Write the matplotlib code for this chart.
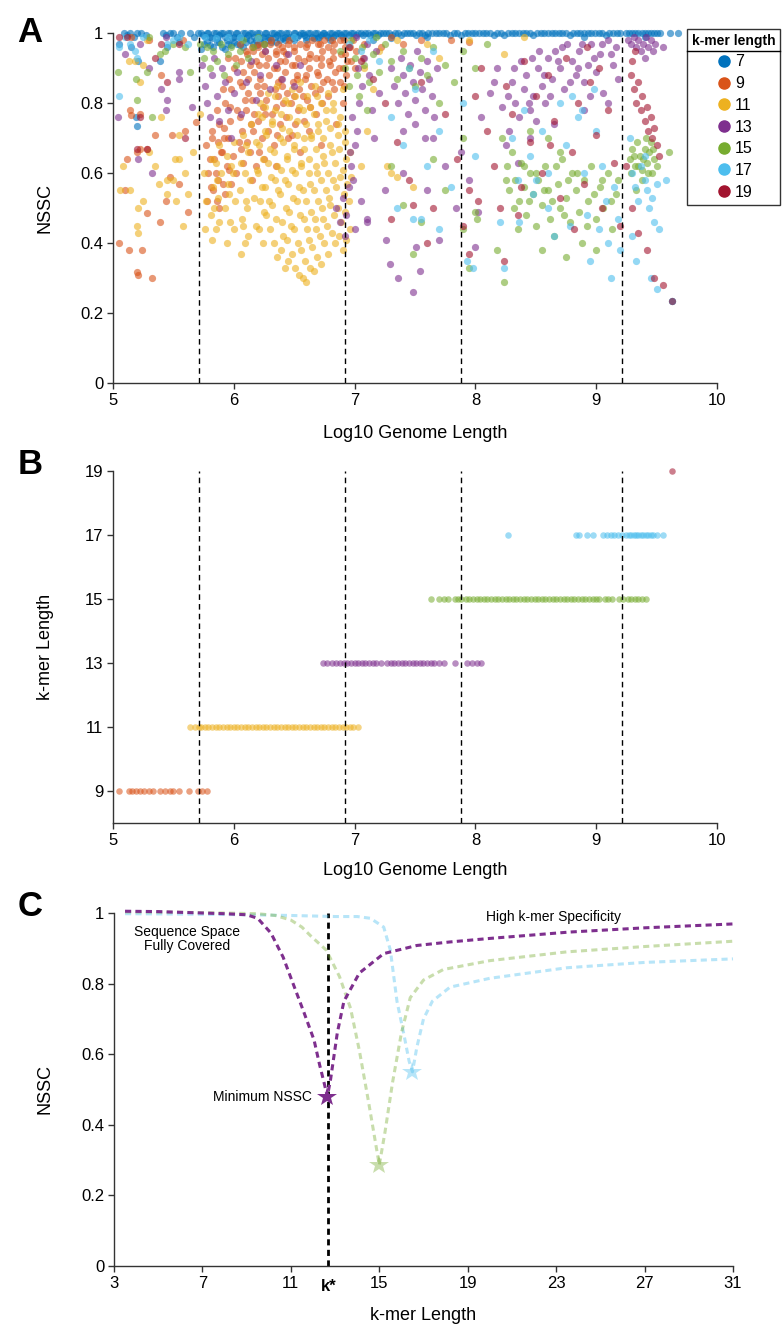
import numpy as np
import matplotlib.pyplot as plt
from matplotlib.lines import Line2D

plt.rcParams['font.family'] = ['Liberation Sans', 'DejaVu Sans']

kmers = [7, 9, 11, 13, 15, 17, 19]
colors = ['#0072BD', '#D95319', '#EDB120', '#7E2F8E', '#77AC30', '#4DBEEE', '#A2142F']

# ---- panel A: (log10 genome length, NSSC) ----
a7 = [(5.09,1),(5.12,0.995),(5.14,1),(5.17,0.99),(5.20,1),(5.23,1),(5.27,0.995),(5.41,1),(5.44,0.995),(5.47,1),
      (5.50,1),(5.53,0.99),(5.56,1),(5.64,1),(5.67,0.99),(5.70,1),(5.73,1),(5.76,0.99),(5.79,1),(5.82,0.985),
      (5.85,1),(5.88,0.995),(5.91,1),(5.94,0.98),(5.97,1),(6.00,0.99),(6.03,1),(6.06,0.985),(6.09,1),(6.12,0.995),
      (6.15,1),(6.18,0.98),(6.21,1),(6.24,0.99),(6.27,1),(6.30,0.985),(6.33,1),(6.36,0.995),(6.39,1),(6.42,0.99),
      (6.45,1),(6.48,0.985),(6.51,1),(6.54,0.995),(6.57,1),(6.60,0.99),(6.63,1),(6.66,0.985),(6.69,1),(6.72,0.995),
      (6.75,1),(6.78,0.99),(6.81,1),(6.84,0.995),(6.87,1),(6.90,0.99),(6.93,1),(6.97,1),(7.01,0.995),(7.05,1),
      (7.09,1),(7.13,0.995),(7.17,1),(7.21,1),(7.26,1),(7.31,0.995),(7.36,1),(7.41,1),(7.46,1),(7.51,0.995),
      (7.56,1),(7.61,1),(7.67,1),(7.73,1),(7.79,0.995),(7.85,1),(7.91,1),(7.97,1),(8.03,1),(8.09,1),
      (8.15,0.995),(8.21,1),(8.27,1),(8.33,1),(8.39,1),(8.45,1),(8.51,1),(8.57,1),(8.63,1),(8.69,1),
      (8.75,1),(8.81,1),(8.87,1),(8.93,1),(8.99,1),(9.05,1),(9.11,1),(9.17,1),(9.25,1),(9.30,1),
      (9.35,1),(9.40,1),(9.45,1),(9.50,1),(9.53,1),(9.61,1),(9.68,1),
      (5.745,0.995),(5.775,1),(5.805,0.99),(5.835,1),(5.865,0.985),(5.895,1),(5.925,0.99),(5.955,1),
      (5.985,0.985),(6.015,1),(6.045,0.99),(6.075,1),(6.105,0.985),(6.135,1),(6.165,0.99),(6.195,1),
      (6.225,0.985),(6.255,1),(6.285,0.99),(6.315,1),(6.345,0.99),(6.375,1),(6.405,0.985),(6.435,1),
      (6.465,0.99),(6.495,1),(6.525,0.99),(6.555,1),(6.585,0.995),(6.615,1),(6.645,0.99),(6.675,1),
      (6.705,0.99),(6.735,1),(6.765,0.995),(6.795,1),(6.825,0.99),(6.855,1),(6.885,0.995),(6.915,1),
      (6.95,0.995),(6.99,1),(7.03,1),(7.07,0.995),(7.11,1),(7.15,1),(7.19,0.995),(7.235,1),(7.285,1),
      (7.335,1),(7.385,0.995),(7.435,1),(7.485,1),(7.535,1),(7.585,0.995),(7.64,1),(7.70,1),(7.76,1),
      (7.82,1),(7.88,0.995),(7.94,1),(8.00,1),(8.06,1),(8.12,1),(8.18,1),(8.24,0.995),(8.30,1),(8.36,1),
      (8.42,1),(8.48,0.995),(8.54,1),(8.60,1),(8.66,1),(8.72,1),(8.78,0.995),(8.84,1),(8.90,1),(8.96,1),
      (9.02,1),(9.08,0.995),(9.14,1),(9.20,1),(9.27,1),(9.32,1),(9.38,1),(9.43,1),(9.48,1),
      (5.75,0.97),(5.80,0.965),(5.86,0.975),(5.90,0.96),(5.95,0.97),(6.00,0.975),(6.05,0.965),(6.10,0.975),
      (6.16,0.97),(6.22,0.975),(6.28,0.98),(6.35,0.975),(6.42,0.98),(6.50,0.98),(6.60,0.98),(6.70,0.985),
      (6.80,0.98),(5.73,0.955),(5.78,0.975),(5.83,0.96),(5.88,0.975),(5.93,0.955),(5.98,0.965),(6.03,0.97),
      (6.08,0.96),(6.13,0.98),(6.19,0.965),(6.25,0.97),(6.31,0.975),(6.38,0.98),
      (5.21,0.92),(5.39,0.92),(5.19,0.76),(5.20,0.735),(5.05,0.97),(5.15,0.96),(5.55,0.975),(5.45,0.96),
      (9.63,0.235),(7.15,0.98),(7.30,0.985),(7.60,0.99),(8.90,0.99),(9.40,0.99)]

a9 = [(5.05,0.40),(5.13,0.38),(5.20,0.317),(5.21,0.31),(5.24,0.38),(5.28,0.486),(5.32,0.30),(5.39,0.46),
      (5.44,0.52),(5.55,0.57),(5.62,0.49),(5.10,0.55),(5.22,0.77),(5.14,0.78),(5.15,0.766),(5.49,0.71),
      (5.69,0.746),(5.22,0.67),(5.28,0.67),(5.20,0.66),(5.15,0.99),(5.30,0.98),(5.60,0.72),(5.12,0.64),
      (5.40,0.88),(5.47,0.59),(5.58,0.98),(5.35,0.71),
      (5.78,0.52),(5.79,0.60),(5.77,0.68),(5.83,0.55),(5.84,0.64),(5.82,0.72),(5.88,0.50),(5.87,0.58),
      (5.89,0.66),(5.88,0.74),(5.93,0.54),(5.94,0.62),(5.92,0.70),(5.93,0.80),(5.98,0.57),(5.99,0.65),
      (5.97,0.75),(5.98,0.84),(6.00,0.90),(6.02,0.60),(6.04,0.69),(6.03,0.78),(6.05,0.86),(6.01,0.93),
      (6.08,0.63),(6.07,0.72),(6.09,0.81),(6.08,0.89),(6.10,0.95),(6.13,0.66),(6.14,0.74),(6.12,0.83),
      (6.13,0.91),(6.15,0.96),(6.18,0.62),(6.17,0.77),(6.19,0.85),(6.18,0.92),(6.20,0.97),(6.23,0.70),
      (6.24,0.79),(6.22,0.87),(6.23,0.94),(6.25,0.97),(6.28,0.72),(6.27,0.81),(6.29,0.88),(6.28,0.93),
      (6.30,0.97),(6.33,0.68),(6.32,0.77),(6.34,0.84),(6.33,0.90),(6.35,0.95),(6.31,0.98),(6.38,0.74),
      (6.37,0.82),(6.39,0.87),(6.38,0.92),(6.40,0.96),(6.43,0.76),(6.44,0.83),(6.42,0.89),(6.43,0.94),
      (6.45,0.97),(6.48,0.71),(6.47,0.80),(6.49,0.86),(6.48,0.91),(6.50,0.95),(6.46,0.98),(6.53,0.78),
      (6.54,0.84),(6.52,0.88),(6.53,0.93),(6.55,0.97),(6.58,0.75),(6.57,0.82),(6.59,0.87),(6.58,0.92),
      (6.60,0.96),(6.63,0.79),(6.64,0.85),(6.62,0.90),(6.63,0.94),(6.65,0.98),(6.68,0.77),(6.67,0.83),
      (6.69,0.89),(6.68,0.93),(6.70,0.97),(6.73,0.80),(6.74,0.86),(6.72,0.91),(6.73,0.95),(6.75,0.98),
      (6.78,0.82),(6.77,0.87),(6.79,0.92),(6.78,0.96),(6.83,0.84),(6.84,0.89),(6.82,0.93),(6.83,0.97),
      (6.88,0.86),(6.87,0.90),(6.89,0.94),(6.88,0.98),(6.93,0.88),(6.94,0.92),(6.92,0.96),(7.00,0.90),
      (7.01,0.95),(6.99,0.98),(7.07,0.93),(7.08,0.97),
      (5.81,0.56),(5.80,0.64),(5.82,0.70),(5.86,0.52),(5.85,0.60),(5.87,0.69),(5.86,0.78),(5.91,0.57),
      (5.90,0.66),(5.92,0.73),(5.91,0.84),(5.96,0.61),(5.95,0.70),(5.97,0.79),(5.96,0.87),(5.95,0.93),
      (6.06,0.67),(6.05,0.76),(6.07,0.85),(6.06,0.92),(6.05,0.97),(6.11,0.69),(6.10,0.78),(6.12,0.87),
      (6.11,0.94),(6.16,0.72),(6.15,0.81),(6.17,0.89),(6.16,0.95),(6.21,0.66),(6.20,0.75),(6.22,0.83),
      (6.21,0.91),(6.20,0.96),(6.26,0.77),(6.25,0.85),(6.27,0.91),(6.26,0.95),(6.36,0.71),(6.35,0.79),
      (6.37,0.86),(6.36,0.90),(6.35,0.94),(6.37,0.97),(6.41,0.80),(6.40,0.85),(6.42,0.92),(6.41,0.95),
      (6.51,0.74),(6.50,0.82),(6.52,0.87),(6.51,0.91),(6.50,0.96),(6.61,0.81),(6.60,0.88),(6.62,0.93),
      (6.61,0.97),(6.71,0.84),(6.70,0.88),(6.72,0.93),(6.71,0.97),(6.81,0.86),(6.80,0.91),(6.82,0.95),
      (6.81,0.98),(6.91,0.85),(6.90,0.90),(6.92,0.94),(6.91,0.98),(6.97,0.92),(6.96,0.96),
      (6.45,0.70),(6.55,0.66),(6.62,0.72),(6.72,0.68),(6.85,0.74),(6.90,0.80),(6.25,0.64),(6.15,0.58),
      (6.35,0.62),(7.22,0.96),(7.30,0.99),(7.40,0.97),(7.55,0.98),(7.80,0.98),(7.95,0.975)]

a11 = [(5.76,0.44),(5.77,0.52),(5.75,0.60),(5.82,0.41),(5.81,0.48),(5.83,0.56),(5.82,0.64),(5.88,0.46),
       (5.87,0.53),(5.89,0.60),(5.88,0.68),(5.94,0.40),(5.93,0.50),(5.95,0.57),(5.94,0.65),(6.00,0.44),
       (6.01,0.52),(5.99,0.60),(6.00,0.69),(6.06,0.37),(6.07,0.47),(6.05,0.55),(6.06,0.63),(6.08,0.71),
       (6.12,0.42),(6.11,0.50),(6.13,0.58),(6.12,0.66),(6.14,0.74),(6.18,0.45),(6.17,0.53),(6.19,0.61),
       (6.18,0.69),(6.20,0.77),(6.24,0.40),(6.25,0.49),(6.23,0.56),(6.24,0.64),(6.26,0.72),(6.22,0.80),
       (6.30,0.44),(6.29,0.52),(6.31,0.59),(6.30,0.67),(6.32,0.75),(6.28,0.83),(6.36,0.36),(6.35,0.47),
       (6.37,0.55),(6.36,0.62),(6.38,0.70),(6.34,0.78),(6.36,0.85),(6.42,0.33),(6.41,0.42),(6.43,0.50),
       (6.42,0.58),(6.44,0.65),(6.40,0.73),(6.42,0.81),(6.48,0.37),(6.47,0.45),(6.49,0.53),(6.48,0.61),
       (6.50,0.68),(6.46,0.76),(6.48,0.84),(6.54,0.31),(6.53,0.40),(6.55,0.48),(6.54,0.56),(6.56,0.63),
       (6.52,0.71),(6.54,0.79),(6.55,0.86),(6.60,0.29),(6.59,0.35),(6.61,0.44),(6.60,0.52),(6.62,0.60),
       (6.58,0.67),(6.60,0.74),(6.61,0.82),(6.66,0.32),(6.65,0.39),(6.67,0.47),(6.66,0.55),(6.68,0.62),
       (6.64,0.70),(6.66,0.77),(6.67,0.85),(6.72,0.34),(6.71,0.42),(6.73,0.50),(6.72,0.58),(6.74,0.65),
       (6.70,0.72),(6.72,0.80),(6.78,0.37),(6.77,0.45),(6.79,0.53),(6.78,0.60),(6.80,0.68),(6.76,0.75),
       (6.78,0.83),(6.84,0.40),(6.83,0.48),(6.85,0.56),(6.84,0.63),(6.86,0.71),(6.82,0.78),(6.90,0.38),
       (6.89,0.46),(6.91,0.54),(6.90,0.61),(6.92,0.69),(6.88,0.76),(6.90,0.84),(6.96,0.44),(6.95,0.52),
       (6.97,0.59),(6.96,0.66),
       (6.21,0.44),(6.22,0.52),(6.20,0.60),(6.21,0.68),(6.23,0.76),(6.27,0.48),(6.26,0.56),(6.28,0.63),
       (6.27,0.71),(6.26,0.79),(6.33,0.40),(6.32,0.51),(6.34,0.58),(6.33,0.66),(6.32,0.74),(6.34,0.82),
       (6.39,0.38),(6.40,0.46),(6.38,0.54),(6.39,0.61),(6.41,0.69),(6.39,0.77),(6.45,0.35),(6.44,0.41),
       (6.46,0.49),(6.45,0.57),(6.44,0.64),(6.46,0.72),(6.45,0.80),(6.51,0.33),(6.50,0.44),(6.52,0.52),
       (6.51,0.60),(6.50,0.67),(6.52,0.75),(6.51,0.82),(6.57,0.30),(6.56,0.38),(6.58,0.47),(6.57,0.55),
       (6.56,0.62),(6.58,0.70),(6.57,0.78),(6.63,0.33),(6.62,0.41),(6.64,0.49),(6.63,0.57),(6.62,0.64),
       (6.64,0.71),(6.63,0.79),(6.69,0.36),(6.68,0.44),(6.70,0.52),(6.69,0.60),(6.68,0.67),(6.70,0.74),
       (6.69,0.82),(6.75,0.40),(6.74,0.47),(6.76,0.55),(6.75,0.63),(6.74,0.70),(6.76,0.78),(6.81,0.43),
       (6.80,0.51),(6.82,0.58),(6.81,0.66),(6.80,0.73),(6.82,0.80),(6.87,0.42),(6.86,0.50),(6.88,0.59),
       (6.87,0.67),(6.86,0.74),(6.93,0.41),(6.92,0.49),(6.94,0.57),(6.93,0.64),(6.92,0.72),
       (5.85,0.44),(5.84,0.50),(5.86,0.58),(5.85,0.63),(5.97,0.46),(5.96,0.54),(5.98,0.62),(6.09,0.40),
       (6.08,0.45),(6.10,0.52),(6.09,0.60),(6.10,0.68),
       (5.06,0.55),(5.14,0.55),(5.21,0.50),(5.25,0.52),(5.21,0.43),(5.20,0.45),(5.45,0.54),(5.45,0.58),
       (5.13,0.92),(5.18,0.92),(5.22,0.86),(5.25,0.91),(5.55,0.71),(5.51,0.64),(5.55,0.64),(5.72,0.77),
       (5.30,0.66),(5.35,0.62),(5.40,0.76),(5.50,0.58),(5.52,0.52),(5.60,0.60),(5.62,0.54),(5.66,0.66),
       (5.28,0.98),(5.38,0.57),(5.08,0.62),(5.58,0.45),
       (7.05,0.62),(7.10,0.72),(7.15,0.84),(7.08,0.90),(7.20,0.95),(7.95,0.98),(8.24,0.94),(7.35,0.98),
       (7.60,0.97),(7.70,0.93),(8.40,0.99),(7.27,0.62),(7.30,0.60),(7.35,0.59),(7.48,0.56)]

a13 = [(5.74,0.91),(5.76,0.85),(5.78,0.80),(5.80,0.76),(5.82,0.88),(5.84,0.93),(5.86,0.82),(5.88,0.75),
       (5.90,0.90),(5.93,0.86),(5.95,0.78),(5.98,0.70),(6.00,0.83),(6.03,0.89),(6.06,0.77),(6.10,0.86),
       (6.14,0.92),(6.18,0.81),(6.22,0.88),(6.26,0.95),(6.30,0.84),(6.35,0.91),(6.40,0.87),(6.45,0.94),
       (6.50,0.85),(6.55,0.91),
       (5.04,0.76),(5.21,0.64),(5.40,0.84),(5.44,0.78),(5.55,0.89),(5.55,0.87),(5.45,0.81),(5.65,0.79),
       (5.32,0.60),(5.22,0.97),(5.44,0.99),(5.10,0.94),(5.30,0.90),
       (6.85,0.50),(6.88,0.46),(6.90,0.53),(6.93,0.48),(6.95,0.56),(6.97,0.62),(6.99,0.58),(7.00,0.68),
       (7.02,0.72),(6.98,0.76),(7.04,0.80),(7.06,0.85),(7.03,0.90),(7.08,0.93),(7.10,0.97),(7.01,0.99),
       (7.12,0.88),(7.14,0.78),(6.96,0.66),(7.05,0.52),(7.10,0.47),(7.00,0.44),(6.92,0.42),(7.16,0.70),
       (7.20,0.83),(7.18,0.95),
       (7.10,0.46),(7.26,0.41),(7.29,0.34),(7.36,0.30),(7.48,0.26),(7.51,0.39),(7.54,0.32),(7.70,0.41),
       (7.84,0.50),(8.00,0.39),(8.02,0.49),(7.25,0.55),(7.40,0.60),(7.60,0.55),(7.75,0.62),(7.95,0.58),
       (7.65,0.70),(7.88,0.66),
       (7.30,0.90),(7.33,0.85),(7.36,0.80),(7.38,0.93),(7.40,0.88),(7.42,0.83),(7.44,0.77),(7.46,0.91),
       (7.48,0.86),(7.50,0.81),(7.52,0.95),(7.54,0.89),(7.56,0.84),(7.58,0.78),(7.60,0.92),(7.62,0.87),
       (7.64,0.82),(7.66,0.76),(7.68,0.90),(7.40,0.72),(7.50,0.74),(7.58,0.70),
       (8.05,0.76),(8.12,0.83),(8.18,0.90),(8.22,0.79),(8.28,0.72),(8.30,0.86),(8.33,0.80),(8.36,0.76),
       (8.38,0.92),(8.40,0.84),(8.42,0.88),(8.45,0.78),(8.48,0.82),(8.50,0.75),(8.52,0.90),(8.55,0.85),
       (8.58,0.80),(8.60,0.93),(8.63,0.87),(8.66,0.95),(8.70,0.90),(8.73,0.84),(8.76,0.97),(8.80,0.92),
       (8.83,0.88),(8.86,0.95),(8.90,0.86),(8.93,0.91),(8.96,0.97),(9.00,0.89),(9.03,0.94),(9.06,0.83),
       (9.10,0.98),(9.14,0.91),(9.18,0.87),(8.25,0.68),(8.45,0.70),(8.65,0.74),(8.90,0.78),(9.10,0.80),
       (8.35,0.63),(8.15,0.86),(8.27,0.82),(8.32,0.90),(8.44,0.80),(8.47,0.93),(8.57,0.88),(8.62,0.82),
       (8.68,0.92),(8.72,0.96),(8.78,0.86),(8.85,0.90),(8.88,0.97),(8.98,0.93),(9.05,0.97),(9.12,0.94),
       (9.16,0.96),(8.53,0.95),(8.95,0.82),
       (9.26,0.98),(9.29,0.97),(9.31,0.99),(9.33,0.96),(9.35,0.98),(9.37,0.95),(9.39,0.97),(9.41,0.99),
       (9.43,0.96),(9.45,0.98),(9.47,0.95),(9.49,0.97),(9.55,0.96),(9.40,0.93)]

a15 = [(5.72,0.97),(5.75,0.93),(5.78,0.96),(5.80,0.90),(5.83,0.95),(5.86,0.92),(5.89,0.97),(5.92,0.88),
       (5.95,0.94),(5.98,0.96),(6.02,0.91),(6.05,0.95),(6.08,0.98),(6.12,0.93),(6.16,0.96),(6.20,0.99),
       (6.25,0.97),
       (5.28,0.89),(5.19,0.87),(5.20,0.81),(5.32,0.76),(5.43,0.95),(5.39,0.94),(5.64,0.89),(5.04,0.89),
       (5.30,0.99),(5.50,0.97),(5.60,0.96),
       (6.88,0.95),(6.92,0.90),(6.95,0.85),(6.97,0.98),(7.00,0.93),(7.02,0.88),(7.04,0.82),(7.06,0.96),
       (7.08,0.91),(7.10,0.78),(7.12,0.86),(7.15,0.94),(7.18,0.99),(7.20,0.89),
       (7.25,0.97),(7.30,0.92),(7.35,0.87),(7.40,0.95),(7.45,0.90),(7.50,0.85),(7.55,0.93),(7.60,0.88),
       (7.65,0.96),(7.70,0.80),(7.75,0.91),(7.82,0.86),(7.90,0.95),(8.00,0.90),(8.10,0.97),
       (7.48,0.37),(8.00,0.49),(8.01,0.47),(7.95,0.33),(8.24,0.29),(8.18,0.38),(7.40,0.51),(7.55,0.46),
       (7.75,0.55),(7.90,0.44),(7.30,0.62),(7.65,0.64),(7.90,0.70),
       (8.22,0.70),(8.26,0.62),(8.28,0.55),(8.30,0.66),(8.33,0.58),(8.36,0.52),(8.38,0.63),(8.40,0.56),
       (8.42,0.48),(8.45,0.60),(8.48,0.54),(8.50,0.45),(8.52,0.58),(8.55,0.51),(8.58,0.62),(8.60,0.55),
       (8.62,0.47),(8.65,0.42),(8.68,0.57),(8.70,0.50),(8.72,0.64),(8.75,0.53),(8.78,0.46),(8.80,0.60),
       (8.83,0.55),(8.86,0.49),(8.88,0.40),(8.90,0.58),(8.93,0.52),(8.96,0.62),(9.00,0.47),(9.03,0.56),
       (9.06,0.50),(9.10,0.60),(9.13,0.44),(9.16,0.54),(8.45,0.72),(8.60,0.70),(8.35,0.44),(8.55,0.38),
       (8.75,0.36),(9.00,0.38),(8.70,0.66),(8.25,0.58),(8.32,0.50),(8.40,0.62),(8.44,0.52),(8.50,0.60),
       (8.57,0.55),(8.63,0.52),(8.67,0.62),(8.73,0.48),(8.77,0.58),(8.84,0.60),(8.92,0.45),(8.98,0.54),
       (9.05,0.58),(9.12,0.52),(9.18,0.58),
       (9.28,0.64),(9.30,0.67),(9.32,0.62),(9.34,0.69),(9.36,0.65),(9.38,0.61),(9.40,0.67),(9.42,0.63),
       (9.44,0.66),(9.46,0.60),(9.48,0.64),(9.50,0.62),(9.38,0.58),(9.45,0.69),(9.60,0.66),(9.33,0.55),
       (9.29,0.60),(9.31,0.65),(9.35,0.62),(9.39,0.64),(9.43,0.60),(9.47,0.67),(9.41,0.70)]

a17 = [(5.05,0.96),(5.10,0.99),(5.18,0.95),(5.20,0.93),(5.14,0.97),(5.45,0.97),(5.55,0.99),(5.50,0.98),
       (5.62,0.97),(5.25,0.99),(5.05,0.82),
       (5.76,0.99),(5.85,0.985),(5.95,0.99),(6.05,0.99),(6.20,0.985),(6.50,0.99),
       (6.95,0.97),(7.05,0.95),(7.12,0.98),(7.20,0.92),(7.30,0.76),(7.40,0.68),(7.50,0.84),(7.60,0.62),
       (7.70,0.72),(7.80,0.56),(7.90,0.80),(8.00,0.65),(7.35,0.50),(7.55,0.47),(7.70,0.44),(7.98,0.33),
       (7.45,0.90),(7.65,0.95),(7.48,0.47),(7.93,0.35),
       (8.20,0.46),(8.24,0.33),(8.36,0.46),(8.30,0.70),(8.40,0.78),(8.45,0.65),(8.50,0.58),(8.55,0.72),
       (8.60,0.50),(8.65,0.42),(8.70,0.80),(8.75,0.68),(8.80,0.82),(8.85,0.76),(8.90,0.60),(8.92,0.48),
       (8.95,0.35),(9.00,0.72),(9.05,0.62),(9.08,0.52),(9.10,0.40),(9.12,0.30),(9.15,0.56),(8.98,0.84),
       (8.88,0.78),(8.60,0.60),(8.48,0.54),(8.35,0.58),(8.78,0.45),(9.02,0.44),(9.18,0.47),(9.20,0.38),
       (9.28,0.70),(9.30,0.60),(9.32,0.56),(9.35,0.52),(9.37,0.62),(9.40,0.58),(9.42,0.55),(9.44,0.50),
       (9.46,0.53),(9.48,0.46),(9.50,0.57),(9.52,0.44),(9.30,0.42),(9.33,0.35),(9.45,0.30),(9.50,0.27),
       (9.58,0.58),(9.63,0.235),(9.40,0.65)]

a19 = [(5.05,0.99),(5.40,0.97),(5.22,0.76),(5.28,0.67),(5.20,0.67),(5.45,0.86),(5.12,0.99),(5.55,0.97),
       (5.35,0.93),(5.60,0.70),
       (6.95,0.96),(7.05,0.92),(7.15,0.87),(7.25,0.80),(7.35,0.69),(7.45,0.58),(7.55,0.86),(7.65,0.50),
       (7.75,0.77),(7.85,0.64),(7.95,0.55),(7.30,0.47),(7.60,0.40),(7.90,0.45),(8.00,0.82),(7.48,0.51),
       (8.02,0.52),(7.95,0.37),
       (8.05,0.90),(8.10,0.72),(8.15,0.62),(8.20,0.50),(8.25,0.85),(8.30,0.77),(8.35,0.48),(8.40,0.92),
       (8.45,0.69),(8.50,0.82),(8.55,0.60),(8.60,0.88),(8.65,0.75),(8.70,0.53),(8.75,0.93),(8.80,0.66),
       (8.85,0.80),(8.90,0.57),(8.95,0.86),(9.00,0.71),(9.05,0.50),(9.10,0.78),(9.15,0.63),(9.20,0.45),
       (8.38,0.56),(8.62,0.68),(8.82,0.44),(9.02,0.90),(8.92,0.96),(8.24,0.35),
       (9.29,0.88),(9.31,0.84),(9.33,0.80),(9.35,0.86),(9.37,0.78),(9.38,0.82),(9.40,0.75),(9.42,0.79),
       (9.43,0.72),(9.45,0.76),(9.46,0.70),(9.48,0.73),(9.50,0.68),(9.30,0.92),(9.32,0.95),(9.52,0.65),
       (9.30,0.50),(9.35,0.43),(9.42,0.38),(9.48,0.30),(9.55,0.28),(9.63,0.235),(9.25,0.62)]

panel_a = [a7, a9, a11, a13, a15, a17, a19]

# boundaries between optimal k-mer regimes (log10 genome length)
bounds = [5.71, 6.92, 7.88, 9.21]

# ---- panel B: genome lengths at which each k is optimal ----
b9 = [5.05, 5.13, 5.16, 5.19, 5.22, 5.26, 5.30, 5.33, 5.39, 5.43, 5.47, 5.50, 5.55, 5.63, 5.70, 5.74, 5.78]
b11 = [5.64, 5.68, 5.71, 5.73, 5.76, 5.79, 5.82, 5.85, 5.88, 5.91, 5.94, 5.97, 6.00, 6.03, 6.06, 6.09,
       6.12, 6.15, 6.18, 6.21, 6.24, 6.27, 6.30, 6.33, 6.36, 6.39, 6.42, 6.45, 6.48, 6.51, 6.54, 6.57,
       6.60, 6.63, 6.66, 6.69, 6.72, 6.75, 6.78, 6.81, 6.84, 6.87, 6.90, 6.93, 6.96, 6.99, 7.03]
b13 = [6.74, 6.77, 6.81, 6.85, 6.88, 6.91, 6.94, 6.97, 7.00, 7.03, 7.06, 7.09, 7.12, 7.15, 7.18, 7.22,
       7.27, 7.30, 7.33, 7.36, 7.39, 7.42, 7.45, 7.48, 7.51, 7.54, 7.57, 7.60, 7.63, 7.66, 7.70, 7.74,
       7.83, 7.93, 7.97, 8.01, 8.05]
b15 = [7.63, 7.70, 7.74, 7.77, 7.83, 7.86, 7.88, 7.92, 7.95, 7.98, 8.01, 8.04, 8.07, 8.10, 8.13, 8.16,
       8.19, 8.22, 8.25, 8.28, 8.31, 8.34, 8.37, 8.40, 8.43, 8.46, 8.49, 8.52, 8.55, 8.58, 8.61, 8.64,
       8.67, 8.70, 8.73, 8.76, 8.79, 8.82, 8.85, 8.88, 8.91, 8.94, 8.97, 9.00, 9.02, 9.07, 9.10, 9.13,
       9.19, 9.22, 9.26, 9.29, 9.32, 9.35, 9.38, 9.41]
b17 = [8.27, 8.83, 8.86, 8.92, 8.97, 9.06, 9.09, 9.12, 9.15, 9.18, 9.21, 9.25, 9.27, 9.29, 9.31, 9.33,
       9.35, 9.37, 9.39, 9.41, 9.43, 9.45, 9.47, 9.50, 9.55]
b19 = [9.63]
panel_b = [None, b9, b11, b13, b15, b17, b19]

# ---- panel C: schematic NSSC vs k curves ----
c1_k = [3.5, 5, 7, 8, 9, 9.5, 10.1, 10.65, 11.1, 11.6, 12.05, 12.3, 12.5, 12.65, 12.8, 13.1, 13.4, 14.1,
        15.2, 16.7, 18.2, 20, 23.6, 27, 31]
c1_y = [1.005, 1.004, 1.0, 0.998, 0.995, 0.985, 0.943, 0.875, 0.80, 0.717, 0.64, 0.57, 0.52, 0.48, 0.53,
        0.66, 0.75, 0.83, 0.885, 0.908, 0.918, 0.928, 0.946, 0.958, 0.969]
c2_k = [3.5, 6, 8, 9.5, 10.3, 11.0, 11.5, 11.9, 12.6, 13.2, 13.7, 14.1, 14.5, 14.8, 15.0, 15.26, 15.6,
        16.0, 16.4, 17.0, 17.9, 20, 23.5, 27, 31]
c2_y = [1.003, 1.002, 1.0, 0.998, 0.993, 0.98, 0.96, 0.935, 0.895, 0.82, 0.73, 0.61, 0.47, 0.36, 0.286,
        0.38, 0.52, 0.66, 0.76, 0.81, 0.84, 0.865, 0.89, 0.905, 0.92]
c3_k = [3.5, 6, 9, 11, 13, 14.0, 14.6, 15.2, 15.5, 15.8, 16.1, 16.35, 16.5, 16.7, 17.0, 17.4, 18.2, 20,
        23.5, 27, 31]
c3_y = [0.998, 0.997, 0.995, 0.993, 0.99, 0.99, 0.985, 0.96, 0.895, 0.75, 0.66, 0.58, 0.55, 0.62, 0.70,
        0.75, 0.79, 0.815, 0.845, 0.86, 0.87]
c_min_k = [12.65, 15.0, 16.5]
c_min_y = [0.48, 0.286, 0.55]
c_colors = ['#7E2F8E', '#77AC30', '#4DBEEE']
c_alpha = [1.0, 0.4, 0.4]
k_star = 12.7

W, H = 783, 1325
fig = plt.figure(figsize=(W / 100, H / 100), dpi=100)


def rect(l, t, r, b):
    return [l / W, 1 - b / H, (r - l) / W, (b - t) / H]


def style(ax):
    for s in ['top', 'right']:
        ax.spines[s].set_visible(False)
    for s in ['left', 'bottom']:
        ax.spines[s].set_color('#333333')
        ax.spines[s].set_linewidth(1)
    ax.tick_params(direction='out', length=4, width=1, color='#333333', labelsize=12, pad=3)


axA = fig.add_axes(rect(113, 33, 717, 383))
axB = fig.add_axes(rect(113, 471, 717, 823))
axC = fig.add_axes(rect(114, 913, 733, 1266))

# Panel A
for pts, c in zip(panel_a, colors):
    pts = np.array(pts)
    axA.scatter(pts[:, 0], pts[:, 1], s=27, color=c, alpha=0.6, linewidths=0, clip_on=False, zorder=2)
axA.vlines(bounds, 0, 1, colors='black', linestyles=(0, (4, 3)), linewidth=1, zorder=3)
axA.set_xlim(5, 10)
axA.set_ylim(0, 1)
axA.set_yticks([0, 0.2, 0.4, 0.6, 0.8, 1])
axA.set_yticklabels(['0', '0.2', '0.4', '0.6', '0.8', '1'])
axA.set_xticks([5, 6, 7, 8, 9, 10])
style(axA)
axA.set_xlabel('Log10 Genome Length', fontsize=13)
axA.set_ylabel('NSSC', fontsize=13)
axA.xaxis.set_label_coords(0.5, -0.12)
axA.yaxis.set_label_coords(-0.098, 0.5)

handles = [Line2D([], [], marker='o', ls='', color=c, markersize=8) for c in colors]
leg = axA.legend(handles, [str(k) for k in kmers], title='k-mer length', loc='upper right',
                 bbox_to_anchor=(780 / W, 1 - 29 / H), bbox_transform=fig.transFigure, borderaxespad=0,
                 frameon=True, fancybox=False, edgecolor='black', fontsize=11.5, alignment='center',
                 handletextpad=0.1, labelspacing=0.42, borderpad=0.3, handlelength=1.2)
leg.get_title().set_fontweight('bold')
leg.get_title().set_fontsize(10)
leg.get_frame().set_linewidth(1)

# Panel B
for xs, k, c in zip(panel_b, kmers, colors):
    if xs is None:
        continue
    axB.scatter(xs, [k] * len(xs), s=22, color=c, alpha=0.55, linewidths=0, clip_on=False, zorder=2)
axB.vlines(bounds, 8, 19, colors='black', linestyles=(0, (4, 3)), linewidth=1, zorder=3)
axB.set_xlim(5, 10)
axB.set_ylim(8, 19)
axB.set_yticks([9, 11, 13, 15, 17, 19])
axB.set_xticks([5, 6, 7, 8, 9, 10])
style(axB)
axB.set_xlabel('Log10 Genome Length', fontsize=13)
axB.set_ylabel('k-mer Length', fontsize=13)
axB.xaxis.set_label_coords(0.5, -0.11)
axB.yaxis.set_label_coords(-0.098, 0.5)

# Panel C
curves = [(c1_k, c1_y), (c2_k, c2_y), (c3_k, c3_y)]
for i in [2, 1, 0]:
    ks, ys = curves[i]
    axC.plot(ks, ys, color=c_colors[i], alpha=c_alpha[i], lw=2.2, dashes=(2, 1.4), clip_on=False, zorder=2)
    axC.plot(c_min_k[i], c_min_y[i], marker='*', color=c_colors[i], alpha=c_alpha[i], markersize=15,
             markeredgewidth=0, clip_on=False, zorder=3)
axC.plot([k_star, k_star], [0, 1.0], color='black', lw=2, dashes=(2.2, 1.6), zorder=1)
axC.set_xlim(3, 31)
axC.set_ylim(0, 1)
axC.set_xticks([3, 7, 11, 15, 19, 23, 27, 31])
axC.set_yticks([0, 0.2, 0.4, 0.6, 0.8, 1])
axC.set_yticklabels(['0', '0.2', '0.4', '0.6', '0.8', '1'])
style(axC)
axC.set_xlabel('k-mer Length', fontsize=13)
axC.set_ylabel('NSSC', fontsize=13)
axC.xaxis.set_label_coords(0.5, -0.115)
axC.yaxis.set_label_coords(-0.098, 0.5)
axC.text(k_star, -0.058, 'k*', ha='center', va='center', fontsize=12, fontweight='bold')
axC.text(6.3, 0.926, 'Sequence Space\nFully Covered', ha='center', va='center', fontsize=10, linespacing=1.0)
axC.text(22.9, 0.99, 'High k-mer Specificity', ha='center', va='center', fontsize=10)
axC.text(11.95, 0.48, 'Minimum NSSC', ha='right', va='center', fontsize=10)

# panel letters
for lab, y in [('A', 32), ('B', 464), ('C', 906)]:
    fig.text(30 / W, 1 - y / H, lab, fontsize=25, fontweight='bold', ha='center', va='center')

# separator line under legend title
fig.canvas.draw()
lb = leg.get_frame().get_window_extent()
tb = leg.get_title().get_window_extent()
ysep = tb.y0 - 3
fig.add_artist(Line2D([lb.x0 / W, lb.x1 / W], [ysep / H, ysep / H], transform=fig.transFigure,
                      color='black', lw=1))

fig.savefig('out.png', dpi=100)
